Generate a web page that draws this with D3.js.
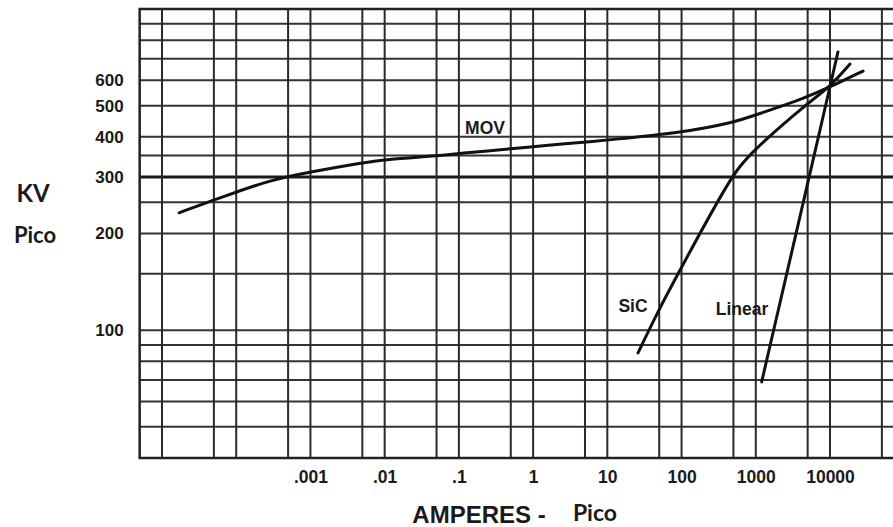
<!DOCTYPE html>
<html>
<head>
<meta charset="utf-8">
<script src="https://cdn.jsdelivr.net/npm/d3@7"></script>
<style>
  html, body { margin: 0; padding: 0; background: #fff; }
  svg { display: block; }
  text { font-family: "Liberation Sans", Arial, sans-serif; font-weight: bold; fill: #1a1a1a; }
  .title { font-family: Lato, "Open Sans", sans-serif; }
</style>
</head>
<body>
<svg id="chart" width="893" height="527"></svg>
<script>
// grid lines (amperes / kV)
const ampGrid = [1e-5, 5e-5, 1e-4, 5e-4, 1e-3, 5e-3, 1e-2, 5e-2, 0.1, 0.5, 1, 5, 10, 50, 100, 500, 1000, 5000, 10000, 50000];
const kvGrid = [50, 60, 70, 80, 90, 100, 150, 200, 250, 300, 350, 400, 500, 600, 700, 800, 900];

// tick labels
const ampTicks = [1e-3, 1e-2, 0.1, 1, 10, 100, 1000, 10000];
const ampTickLabels = [".001", ".01", ".1", "1", "10", "100", "1000", "10000"];
const kvTicks = [100, 200, 300, 400, 500, 600];

// curves
const movAmps = [1.7e-5, 4.9e-5, 1e-4, 2.85e-4, 1e-3, 5e-3, 0.01, 0.05, 0.1, 0.5, 1, 5, 10, 100, 500, 1000, 5000, 10000, 27900];
const movKv = [232, 254, 269, 293, 311, 332, 340, 349, 355, 367, 373, 385, 391, 412, 443, 468, 532, 572, 641];

const sicAmps = [25.9, 51.3, 100, 450, 836, 5000, 10000, 18600];
const sicKv = [85, 118, 157, 298, 356, 510, 572, 674];

const linAmps = [1200, 10000, 12800];
const linKv = [69, 572, 735];

const curveNames = ["MOV", "SiC", "Linear"];
const labelAmps = [0.225, 22.2, 653];
const labelKv = [408, 114, 111.4];

const svg = d3.select("#chart");

const x = d3.scaleLog().domain([1e-5, 1e4]).range([162, 830]);
const y = d3.scaleLog().domain([40, 1000]).range([458, 9]);

const frameL = x(5e-6), frameR = x(2e5);
const frameT = y(1000), frameB = y(40);

// horizontal grid
svg.append("g")
  .selectAll("line")
  .data(kvGrid)
  .join("line")
  .attr("x1", frameL).attr("x2", frameR)
  .attr("y1", d => y(d)).attr("y2", d => y(d))
  .attr("stroke", d => d === 300 ? "#1a1a1a" : "#333")
  .attr("stroke-width", d => d === 300 ? 3 : 2);

// vertical grid
svg.append("g")
  .selectAll("line")
  .data(ampGrid)
  .join("line")
  .attr("x1", d => x(d)).attr("x2", d => x(d))
  .attr("y1", frameT).attr("y2", frameB)
  .attr("stroke", "#2a2a2a")
  .attr("stroke-width", 2);

// frame
svg.append("rect")
  .attr("x", frameL).attr("y", frameT)
  .attr("width", frameR - frameL).attr("height", frameB - frameT)
  .attr("fill", "none")
  .attr("stroke", "#222")
  .attr("stroke-width", 2.5);

// axes (labels only)
const xAxis = svg.append("g")
  .attr("transform", "translate(0," + (frameB + 10) + ")")
  .call(d3.axisBottom(x).tickValues(ampTicks).tickSize(0)
    .tickFormat((d, i) => ampTickLabels[i]));
xAxis.select(".domain").remove();
xAxis.selectAll("text").attr("font-size", 17.5).attr("font-family", null);

const yAxis = svg.append("g")
  .attr("transform", "translate(" + (frameL - 13) + ",0)")
  .call(d3.axisLeft(y).tickValues(kvTicks).tickSize(0).tickFormat(d3.format("d")));
yAxis.select(".domain").remove();
yAxis.selectAll("text").attr("font-size", 17).attr("font-family", null);

// curves
const line = d3.line()
  .x(d => x(d[0]))
  .y(d => y(d[1]))
  .curve(d3.curveBasis);

const series = [
  d3.zip(movAmps, movKv),
  d3.zip(sicAmps, sicKv),
  d3.zip(linAmps, linKv)
];

svg.append("g")
  .selectAll("path")
  .data(series)
  .join("path")
  .attr("d", line)
  .attr("fill", "none")
  .attr("stroke", "#111")
  .attr("stroke-width", 3)
  .attr("stroke-linecap", "round");

// curve labels
svg.append("g")
  .selectAll("text")
  .data(curveNames)
  .join("text")
  .attr("x", (d, i) => x(labelAmps[i]))
  .attr("y", (d, i) => y(labelKv[i]))
  .attr("text-anchor", "middle")
  .attr("font-size", 17.5)
  .text(d => d);

// axis titles
svg.append("text").attr("class", "title")
  .attr("x", 33).attr("y", 202).attr("text-anchor", "middle")
  .attr("font-size", 24).text("KV");
svg.append("text").attr("class", "title")
  .attr("x", 35).attr("y", 243).attr("text-anchor", "middle")
  .attr("font-size", 22).text("Pico");
svg.append("text")
  .attr("x", 479).attr("y", 523).attr("text-anchor", "middle")
  .attr("font-size", 24).text("AMPERES -");
svg.append("text").attr("class", "title")
  .attr("x", 595).attr("y", 521).attr("text-anchor", "middle")
  .attr("font-size", 23).text("Pico");
</script>
</body>
</html>
